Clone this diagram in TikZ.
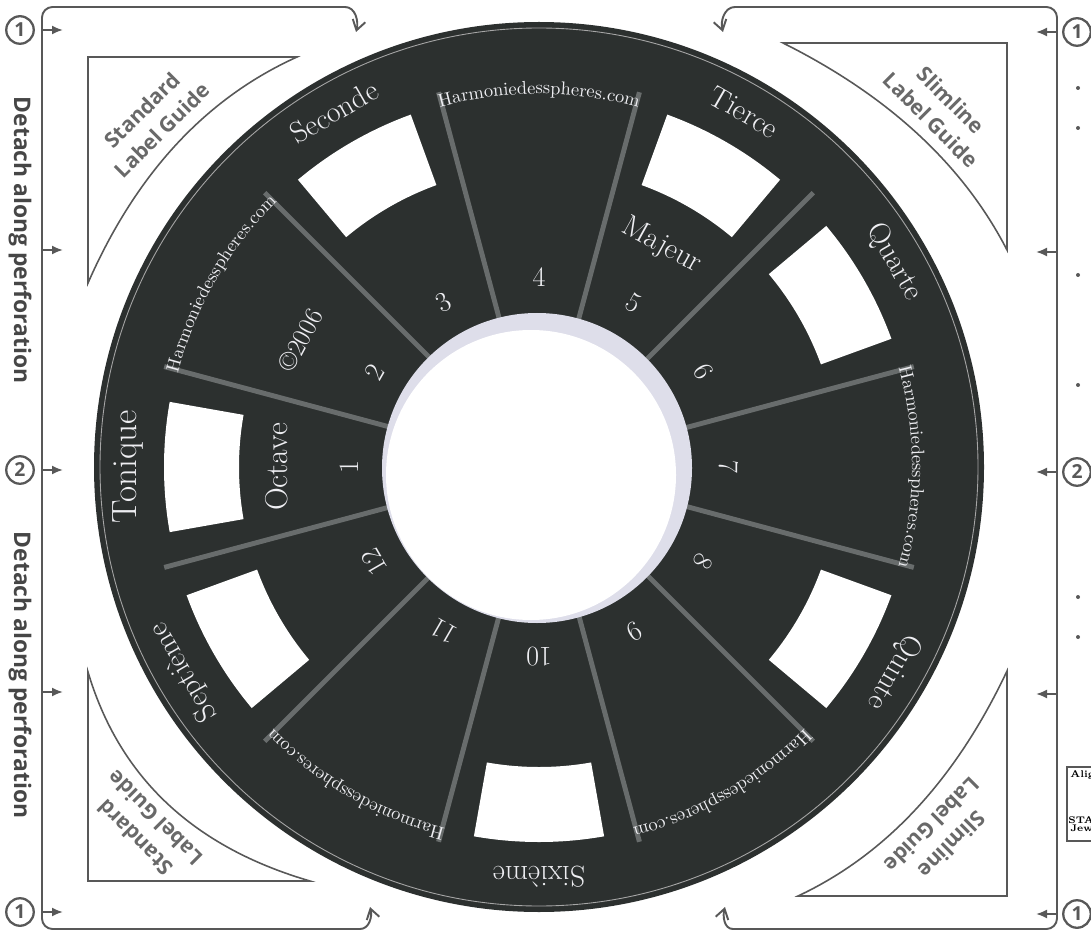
\documentclass[tikz,border=0pt]{standalone}
\usepackage{fontspec}
\newfontfamily\guidefont{Open Sans}
\usetikzlibrary{arrows.meta, calc, decorations.text}

\definecolor{discgray}{RGB}{44,48,47}
\definecolor{spokegray}{RGB}{104,108,108}
\definecolor{holering}{RGB}{222,222,234}
\definecolor{framegray}{RGB}{88,88,88}
\definecolor{inkwhite}{RGB}{238,238,242}

\begin{document}
\begin{tikzpicture}[x=0.02cm, y=0.02cm,
    frame/.style = {draw=framegray, line width=1.1pt},
    pointer/.style = {-{Latex[length=2.2mm, width=1.8mm]}, draw=framegray, line width=1.1pt},
    hook/.style = {-{Straight Barb[length=2mm, width=2.6mm]}, draw=framegray, line width=1.1pt},
    circnum/.style = {circle, draw=framegray, line width=1.3pt, inner sep=0pt, minimum size=0.55cm, font=\guidefont\bfseries\fontsize{11}{11}\selectfont, text=framegray},
    guide/.style = {draw=framegray, line width=0.9pt},
    guidetext/.style = {align=center, font=\guidefont\bfseries\fontsize{12}{16}\selectfont, text=framegray!90, inner sep=0pt},
    detach/.style = {rotate=-90, font=\guidefont\bfseries\fontsize{13}{13}\selectfont, text=framegray!80!black},
    disclabel/.style = {text=inkwhite, font=\fontsize{17}{17}\selectfont, inner sep=0pt},
    num/.style = {text=inkwhite, font=\fontsize{16}{16}\selectfont, inner sep=0pt},
    window/.style = {fill=white, draw=none},
    spoke/.style = {draw=spokegray, line width=2.8pt},
    url/.style = {decorate, decoration={text along path, text align=center, text color=inkwhite, text={|\fontsize{10.5}{12}\selectfont|Harmoniedesspheres.com}}}
  ]
  \useasboundingbox (0,0) rectangle (1091,934);

  % the disc
  \begin{scope}[shift={(539,467)}]
    \fill[discgray] (0,0) circle[radius=445];
    \draw[gray!70, line width=0.5pt] (0,0) circle[radius=439];
    \foreach \a in {180,120,60,30,-30,-90,-150}
      \fill[window] (\a+10:300) arc[start angle=\a+10, end angle=\a-10, radius=300]
        -- (\a-10:375) arc[start angle=\a-10, end angle=\a+10, radius=375] -- cycle;
    \foreach \a in {15,45,...,345}
      \draw[spoke] (\a:150) -- (\a:388);
    % centre hole
    \fill[holering] (-2,-1) circle[radius=155];
    \begin{scope}
      \clip (-2,-1) circle[radius=155];
      \fill[white] (-8,-8) circle[radius=145];
    \end{scope}
    % degree names
    \node[disclabel, font=\fontsize{20}{20}\selectfont, rotate=90] (tonique) at (180:411) {Tonique};
    \foreach \a/\w in {120/Seconde, 60/Tierce, 30/Quarte, -30/Quinte, -90/Sixième, -150/Septième}
      \node[disclabel, rotate=\a-90] (name\a) at (\a:410) {\w};
    \foreach \k in {1,...,12}
      \node[num, rotate=120-30*\k] (deg\k) at ({210-30*\k}:190) {\k};
    \node[disclabel, font=\fontsize{18}{18}\selectfont, rotate=90] (octave) at (180:262) {Octave};
    \node[disclabel, rotate=-29] (majeur) at (61:253) {Majeur};
    \node[disclabel, font=\fontsize{15}{15}\selectfont, rotate=62] (copy) at (152:270) {©2006};
    \foreach \a in {150,90,0,-60,-120}
      \path[url] (\a+20:373) arc[start angle=\a+20, end angle=\a-20, radius=373];
  \end{scope}

  % perforation frames
  \draw[frame, rounded corners=6] (345,927) -- (42,927) -- (42,5) -- (360,5);
  \draw[hook] (345,927) to[out=0, in=75] (356,902);
  \draw[hook] (360,5) to[out=0, in=-75] (370,27);
  \draw[frame, rounded corners=6] (735,927) -- (1057,927) -- (1057,5) -- (733,5);
  \draw[hook] (735,927) to[out=180, in=105] (723,902);
  \draw[hook] (733,5) to[out=180, in=-105] (725,27);

  \foreach \y in {904,684,464,242,22}
    \draw[pointer] (42,\y) -- (63,\y);
  \foreach \y in {902,682,462,240,20}
    \draw[pointer] (1057,\y) -- (1036,\y);

  \node[circnum] (left1) at (20,904) {1};
  \node[circnum] (left2) at (20,464) {2};
  \node[circnum] (left3) at (20,22) {1};
  \node[circnum] (right1) at (1077,902) {1};
  \node[circnum] (right2) at (1077,462) {2};
  \node[circnum] (right3) at (1077,20) {1};

  \node[detach] (detachtop) at (20,694) {Detach along perforation};
  \node[detach] (detachbot) at (20,259) {Detach along perforation};

  % label guides
  \draw[guide] (88,877) -- (297,877) .. controls ($(297,877)!.667!(160,815)$) and ($(88,651)!.667!(160,815)$) .. (88,651) -- cycle;
  \draw[guide] (1007,891) -- (783,891) .. controls ($(783,891)!.667!(941,812)$) and ($(1007,684)!.667!(941,812)$) .. (1007,684) -- cycle;
  \draw[guide] (88,53) -- (310,53) .. controls ($(310,53)!.667!(135,104)$) and ($(88,262)!.667!(135,104)$) .. (88,262) -- cycle;
  \draw[guide] (1007,38) -- (798,38) .. controls ($(798,38)!.667!(930,100)$) and ($(1007,263)!.667!(930,100)$) .. (1007,263) -- cycle;

  \node[guidetext, rotate=45] (stdtop) at (152,814) {Standard\\Label Guide};
  \node[guidetext, rotate=-45] (slimtop) at (941,824) {Slimline\\Label Guide};
  \node[guidetext, rotate=135] (stdbot) at (145,106) {Standard\\Label Guide};
  \node[guidetext, rotate=-135] (slimbot) at (942,99) {Slimline\\Label Guide};

  % cut-off edge
  \foreach \y in {846,806,659,549,337,297}
    \fill[framegray] (1078,\y) circle[radius=2];
  \draw[framegray, line width=0.6pt] (1067,167) rectangle (1110,93);
  \node[anchor=west, inner sep=0pt, font=\bfseries\fontsize{5.5}{6}\selectfont] (alig) at (1070,159) {Alig};
  \node[anchor=west, inner sep=0pt, font=\bfseries\fontsize{5.5}{6}\selectfont] (sta) at (1068,114) {STA};
  \node[anchor=west, inner sep=0pt, font=\bfseries\fontsize{5.5}{6}\selectfont] (jew) at (1070,106) {Jew};
\end{tikzpicture}
\end{document}
